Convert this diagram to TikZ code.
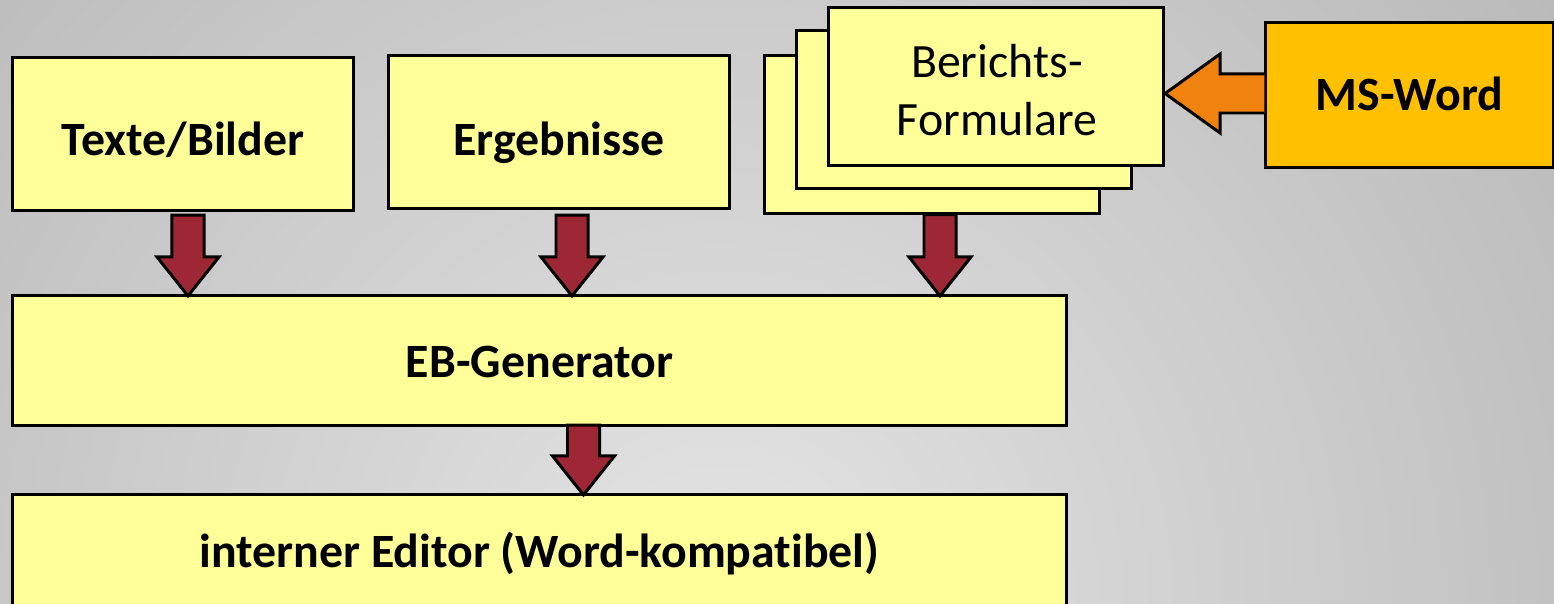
\documentclass[tikz,border=0pt]{standalone}
\usepackage{fontspec}
\setmainfont{Carlito}[Ligatures=NoCommon]
\usetikzlibrary{calc}
\definecolor{boxyellow}{HTML}{FFFF99}
\definecolor{msorange}{HTML}{FFC000}
\definecolor{arrowred}{HTML}{9E2736}
\definecolor{arroworange}{HTML}{F0820F}
\definecolor{bglight}{HTML}{E4E4E4}
\definecolor{bgdark}{HTML}{B9B9B9}
\newcommand\blkdown[2]{%
  \draw[redarrow] let \p1=(#1), \p2=(#2) in
    (\x1-0.16cm,\y1) -- (\x1+0.16cm,\y1) -- (\x1+0.16cm,\y2+0.39cm) --
    (\x1+0.31cm,\y2+0.39cm) -- (\x1,\y2) -- (\x1-0.31cm,\y2+0.39cm) --
    (\x1-0.16cm,\y2+0.39cm) -- cycle;}
\begin{document}
\begin{tikzpicture}[x=0.01cm,y=-0.01cm,
  plainbox/.style={draw=black, line width=0.85pt, fill=boxyellow, rectangle,
    inner sep=0pt, outer sep=0pt},
  box/.style={plainbox, font=\fontsize{13.6}{16.5}\selectfont\bfseries,
    text depth=0pt, text height=8.7pt},
  redarrow/.style={draw=black, line width=0.85pt, fill=arrowred, line join=miter},
  orangearrow/.style={draw=black, line width=0.85pt, fill=arroworange, line join=miter},
  lbl/.style={font=\fontsize{13.6}{16.5}\selectfont, align=center, inner sep=0pt}]
\useasboundingbox (0,0) rectangle (1554,604);
\clip (0,0) rectangle (1554,604);
\shade[inner color=bglight, outer color=bgdark] (720,600) circle (10.5cm);

% boxes
\node[box, minimum width=3.4cm, minimum height=1.52cm, text height=12.1pt] (tb) at (183,134) {Texte/Bilder};
\node[box, minimum width=3.4cm, minimum height=1.52cm, text height=13.3pt] (erg) at (559,132) {Ergebnisse};
\node[plainbox, minimum width=3.34cm, minimum height=1.57cm] (back) at (932,134.5) {};
\node[plainbox, minimum width=3.34cm, minimum height=1.57cm] (mid) at (964,109.5) {};
\node[plainbox, minimum width=3.34cm, minimum height=1.57cm] (front) at (996,86.5) {};
\node[lbl] (frontlabel) at ($(front.center)+(1,4)$) {Berichts-\\Formulare};
\node[box, minimum width=10.53cm, minimum height=1.29cm, text height=9.5pt] (eb) at (539.5,360.5) {EB-Generator};
\node[box, minimum width=10.53cm, minimum height=1.14cm] (ed) at (539.5,552) {interner Editor (Word-kompatibel)};

% orange arrow MS-Word -> Berichts-Formulare
\node[box, fill=msorange, minimum width=2.87cm, minimum height=1.44cm, text height=9pt] (ms) at (1409.5,95) {MS-Word};
\draw[orangearrow] let \p1=(ms.west), \p2=(front.east) in
  (\x1-0.42pt,\y1+0.21cm) -- (\x2+0.57cm,\y1+0.21cm) -- (\x2+0.57cm,\y1+0.41cm) --
  (\x2+0.02cm,\y1+0.015cm) -- (\x2+0.57cm,\y1-0.38cm) -- (\x2+0.57cm,\y1-0.18cm) --
  (\x1-0.42pt,\y1-0.18cm);

% red arrows
\coordinate (a1) at ($(tb.south)+(5,5)$);
\coordinate (a2) at ($(erg.south)+(13,7)$);
\coordinate (a3) at ($(back.south)+(8,1.5)$);
\coordinate (a4) at ($(eb.south)+(44,0)$);
\blkdown{a1}{a1 |- eb.north}
\blkdown{a2}{a2 |- eb.north}
\blkdown{a3}{a3 |- eb.north}
\blkdown{a4}{a4 |- ed.north}
\end{tikzpicture}
\end{document}
